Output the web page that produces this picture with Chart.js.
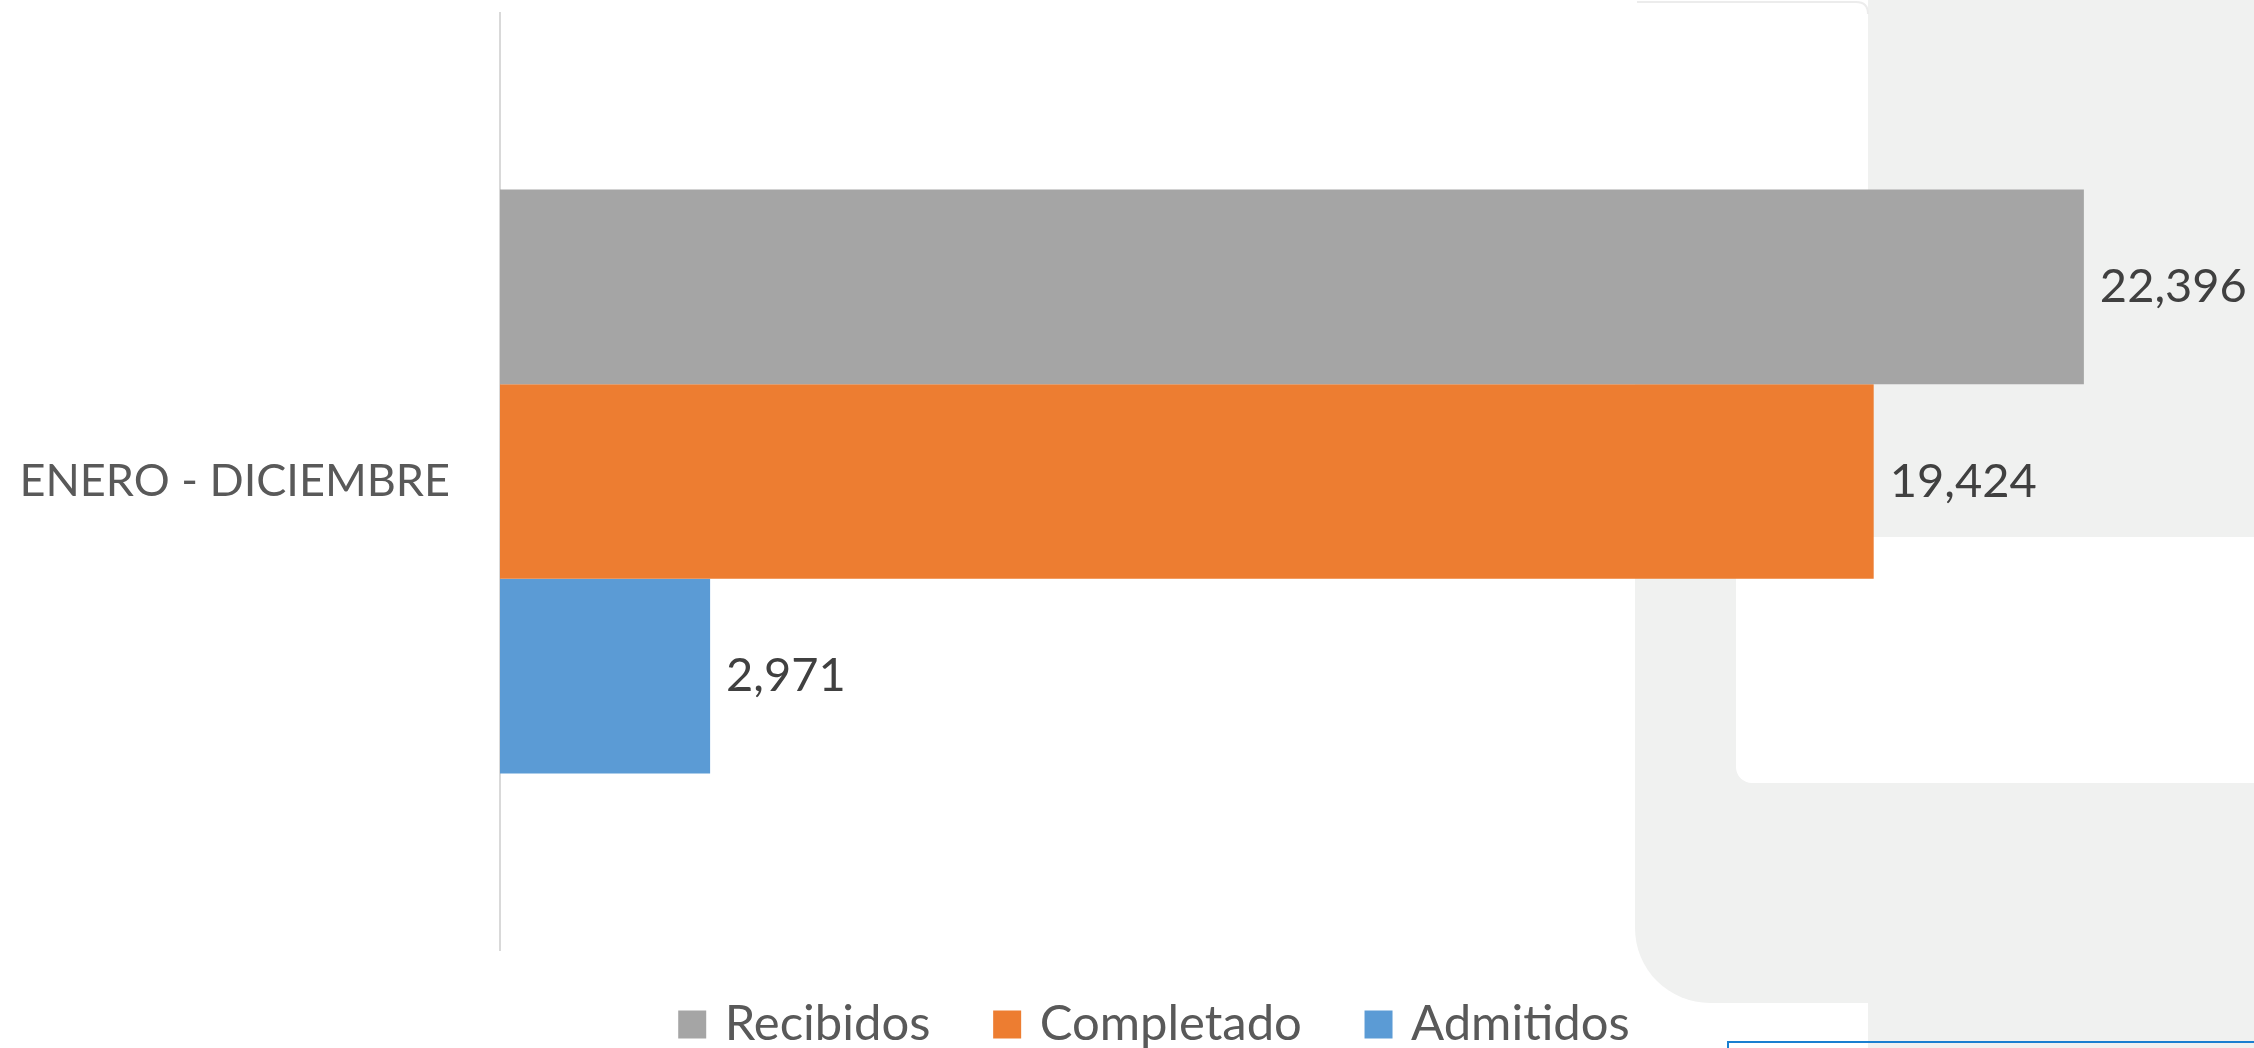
<!DOCTYPE html>
<html>
<head>
<meta charset="utf-8">
<script src="https://cdn.jsdelivr.net/npm/chart.js@4"></script>
<style>
  html,body{margin:0;padding:0;background:#fff;overflow:hidden;}
  #wrap{width:2314px;height:1112px;margin-top:-64px;position:relative;}
</style>
</head>
<body>
<div id="wrap"><canvas id="chart"></canvas></div>
<script>
const categories = ['ENERO - DICIEMBRE'];
const seriesNames = ['Recibidos', 'Completado', 'Admitidos'];
const recibidos = [22396];
const completado = [19424];
const admitidos = [2971];
const seriesColors = ['#a5a5a5', '#ed7d31', '#5b9bd5'];

const FONT = "Lato, 'Open Sans', sans-serif";
const SHIFT = 64; // canvas starts above the window top

// light grey window shapes behind the chart (screenshot backdrop)
const backdrop = {
  id: 'backdrop',
  beforeDraw(chart){
    const c = chart.ctx;
    c.save();
    c.fillStyle = '#fff';
    c.fillRect(0, 0, chart.width, chart.height);
    c.translate(0, SHIFT);
    c.fillStyle = '#f0f1f0';
    c.fillRect(1868, -SHIFT, chart.width - 1868, chart.height);
    c.beginPath();
    c.roundRect(1635, 300, 300, 703, [0, 0, 0, 75]);
    c.fill();
    c.fillStyle = '#fff';
    c.beginPath();
    c.roundRect(1736, 537, chart.width - 1736 + 20, 246, 16);
    c.fill();
    c.strokeStyle = '#ececec';
    c.lineWidth = 2;
    c.beginPath();
    c.moveTo(1637, 2);
    c.lineTo(1856, 2);
    c.quadraticCurveTo(1868, 2, 1868, 14);
    c.stroke();
    c.strokeStyle = '#1a7fd0';
    c.beginPath();
    c.moveTo(1728, 1048);
    c.lineTo(1728, 1042);
    c.lineTo(chart.width, 1042);
    c.stroke();
    c.restore();
  }
};

const valueLabels = {
  id: 'valueLabels',
  afterDatasetsDraw(chart){
    const c = chart.ctx;
    c.save();
    c.font = '47px ' + FONT;
    c.fillStyle = '#404040';
    c.textBaseline = 'middle';
    c.textAlign = 'left';
    chart.data.datasets.forEach((ds, i) => {
      chart.getDatasetMeta(i).data.forEach((bar, j) => {
        c.fillText(ds.data[j].toLocaleString('en-US'), bar.x + 16, bar.y);
      });
    });
    c.restore();
  }
};

const values = [recibidos, completado, admitidos];

new Chart(document.getElementById('chart'), {
  type: 'bar',
  data: {
    labels: categories,
    datasets: seriesNames.map((name, i) => ({
      label: name,
      data: values[i],
      backgroundColor: seriesColors[i],
      borderWidth: 0
    }))
  },
  options: {
    indexAxis: 'y',
    responsive: true,
    maintainAspectRatio: false,
    animation: false,
    categoryPercentage: 0.623,
    barPercentage: 1,
    layout: {padding: {top: 12, right: 0, left: 0, bottom: -11}},
    plugins: {
      legend: {
        position: 'bottom',
        labels: {
          color: '#595959',
          font: {family: FONT, size: 49},
          usePointStyle: true,
          pointStyle: 'rect',
          boxWidth: 16,
          boxHeight: 28,
          padding: 50,
          generateLabels(chart){
            const items = Chart.defaults.plugins.legend.labels.generateLabels(chart);
            items.forEach((it, i) => {
              it.pointStyle = 'rect';
              it.lineWidth = 0;
              if (i < items.length - 1) it.text += '\u00a0\u2009';
            });
            return items;
          }
        }
      },
      tooltip: {enabled: false}
    },
    scales: {
      x: {
        min: 0,
        max: 25650,
        display: false
      },
      y: {
        afterFit(scale){ scale.width = 500; },
        grid: {display: false, drawTicks: false},
        border: {display: true, color: '#d9d9d9', width: 2},
        ticks: {
          color: '#595959',
          font: {family: FONT, size: 45},
          padding: 50
        }
      }
    }
  },
  plugins: [backdrop, valueLabels]
});
</script>
</body>
</html>
